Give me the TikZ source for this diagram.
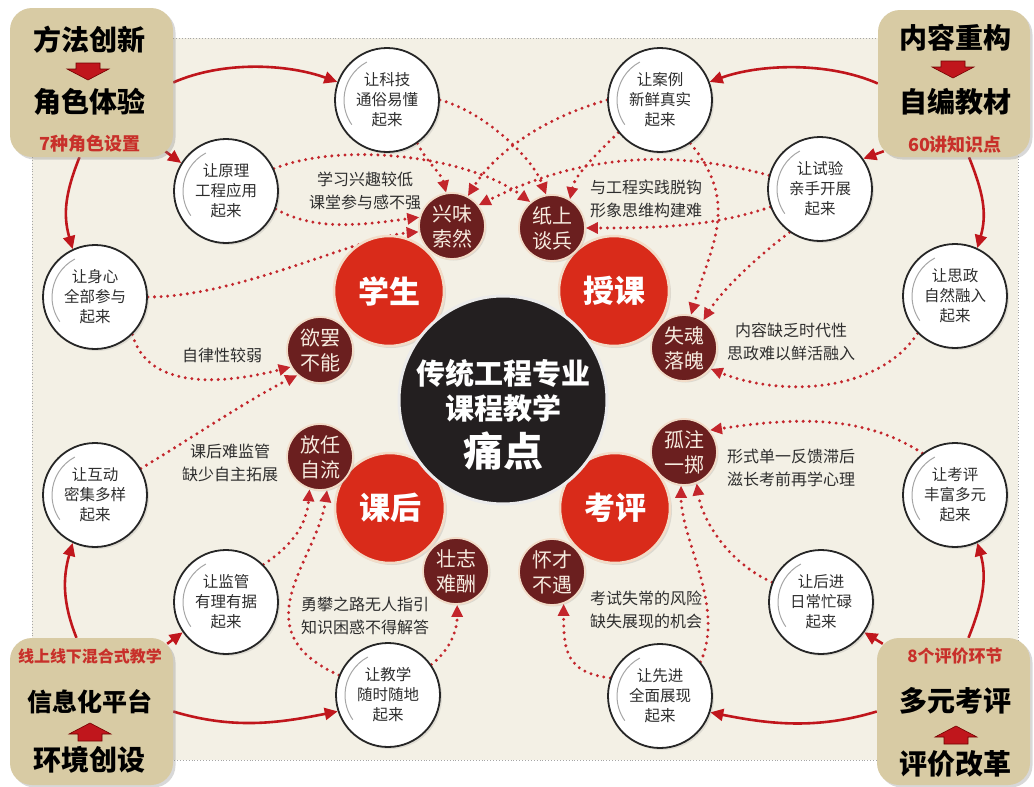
\documentclass[tikz,border=0pt]{standalone}
\usepackage{fontspec}
\setmainfont{Noto Sans CJK SC}
\usetikzlibrary{arrows.meta,shadows}
\pgfdeclarelayer{back}
\pgfdeclarelayer{mid}
\pgfsetlayers{back,mid,main}
\definecolor{bgbeige}{HTML}{F3F0E5}
\definecolor{boxtan}{HTML}{D8CBA4}
\definecolor{darkred}{HTML}{C0161C}
\definecolor{dotred}{HTML}{C3262C}
\definecolor{circred}{HTML}{D92B1A}
\definecolor{painc}{HTML}{6B1F1F}
\definecolor{coal}{HTML}{231F20}
\definecolor{txtc}{HTML}{2E2E2E}
\definecolor{subred}{HTML}{C8302A}
\definecolor{ringc}{HTML}{F2DCC8}
\definecolor{creamc}{HTML}{F6EBDF}
\tikzset{
  wc/.style={circle, draw=black!85, line width=1.8pt, fill=white, minimum size=104pt, inner sep=0pt, align=center, text=txtc, font=\fontsize{15.5}{20}\selectfont, drop shadow={opacity=0.18, shadow xshift=2pt, shadow yshift=-2pt}},
  rc/.style={circle, draw=ringc, line width=2.5pt, fill=circred, minimum size=110pt, inner sep=0pt, text=white, font=\fontsize{31}{36}\selectfont\bfseries, drop shadow={opacity=0.2, shadow xshift=2pt, shadow yshift=-2pt}},
  mc/.style={circle, draw=ringc, line width=1.8pt, fill=painc, minimum size=66pt, inner sep=0pt, align=center, text=creamc, font=\fontsize{20}{25}\selectfont, drop shadow={opacity=0.2, shadow xshift=1.5pt, shadow yshift=-1.5pt}},
  cc/.style={circle, draw=white!92!black, line width=3pt, fill=coal, minimum size=208pt, inner sep=0pt},
  ctxt/.style={text=white, inner sep=0pt, font=\fontsize{29}{32}\selectfont\bfseries},
  ann/.style={align=center, text=txtc, font=\fontsize{16}{23}\selectfont, inner sep=0pt},
  cbox/.style={rounded corners=22pt, fill=boxtan, inner sep=0pt, drop shadow={opacity=0.3, shadow xshift=2.5pt, shadow yshift=-2.5pt}},
  btext/.style={font=\fontsize{28}{32}\selectfont\bfseries, text=black, inner sep=0pt},
  bsub/.style={font=\fontsize{18}{20}\selectfont\bfseries, text=subred, inner sep=0pt},
  sarr/.style={draw=darkred, line width=2.6pt, -{Triangle[length=13pt,width=12pt]}},
  darr/.style={draw=dotred, line width=3.3pt, line cap=round, dash pattern=on 0pt off 6.6pt, -{Triangle[length=12pt,width=11pt]}},
  blockarr/.style={fill=darkred, draw=black!55!red, line width=0.6pt},
  garc/.style={draw=gray!70, line width=1pt}
}
\begin{document}
\begin{tikzpicture}[x=1pt,y=-1pt]
\useasboundingbox (0,0) rectangle (1034,787);
\begin{pgfonlayer}{back}
  \fill[white] (0,0) rectangle (1034,787);
  \fill[bgbeige] (32,38) rectangle (1018,760);
  \draw[gray!70, dotted, line width=0.9pt] (32,38) rectangle (1018,760);
\end{pgfonlayer}

% corner boxes
\node[cbox, minimum width=163pt, minimum height=149pt] (TL) at (91.5,82.5) {};
\node[cbox, minimum width=152pt, minimum height=147pt] (TR) at (954,83.5) {};
\node[cbox, minimum width=163pt, minimum height=147pt] (BL) at (91.5,711.5) {};
\node[cbox, minimum width=153pt, minimum height=147pt] (BR) at (953.5,711.5) {};

\node[btext] (TLa) at (90,40) {方法创新};
\node[btext] (TLb) at (90,102) {角色体验};
\node[bsub] (TLc) at (90,144) {7种角色设置};
\fill[blockarr] (76,63) -- (100,63) -- (100,69) -- (109,69) -- (88,80) -- (67,69) -- (76,69) -- cycle;

\node[btext] (TRa) at (955,38) {内容重构};
\node[btext] (TRb) at (955,102) {自编教材};
\node[bsub] (TRc) at (955,145) {60讲知识点};
\fill[blockarr] (941,61) -- (965,61) -- (965,67) -- (974,67) -- (953,78) -- (932,67) -- (941,67) -- cycle;

\node[bsub, font=\fontsize{16}{18}\selectfont\bfseries] (BLa) at (90,656) {线上线下混合式教学};
\node[btext, font=\fontsize{25}{28}\selectfont\bfseries] (BLb) at (90,702) {信息化平台};
\node[btext] (BLc) at (90,760) {环境创设};
\fill[blockarr] (90,723) -- (111,734) -- (102,734) -- (102,741) -- (78,741) -- (78,734) -- (69,734) -- cycle;

\node[bsub, font=\fontsize{17}{19}\selectfont\bfseries] (BRa) at (955,656) {8个评价环节};
\node[btext] (BRb) at (955,701) {多元考评};
\node[btext] (BRc) at (955,764) {评价改革};
\fill[blockarr] (956,726) -- (977,737) -- (968,737) -- (968,744) -- (944,744) -- (944,737) -- (935,737) -- cycle;

% red circles
\node[rc] (S) at (389,291) {学生};
\node[rc] (T) at (614,291) {授课};
\node[rc] (H) at (390,508) {课后};
\node[rc] (K) at (615,508) {考评};

% centre
\node[cc] (C) at (503,400) {};
\node[ctxt] (C1) at (503,373) {传统工程专业};
\node[ctxt] (C2) at (503,408) {课程教学};
\node[ctxt, font=\fontsize{40}{44}\selectfont\bfseries] (C3) at (503,451) {痛点};

% maroon circles
\node[mc] (XW) at (452,226) {兴味\\索然};
\node[mc] (ZS) at (552,228) {纸上\\谈兵};
\node[mc] (YB) at (320,350) {欲罢\\不能};
\node[mc] (SH) at (684,348) {失魂\\落魄};
\node[mc] (FR) at (320,457) {放任\\自流};
\node[mc] (GZ) at (684,452) {孤注\\一掷};
\node[mc] (ZZ) at (456,571) {壮志\\难酬};
\node[mc] (HC) at (552,572) {怀才\\不遇};

% white circles
\node[wc] (KJ) at (387,100) {让科技\\通俗易懂\\起来};
\node[wc] (YL) at (226,191) {让原理\\工程应用\\起来};
\node[wc] (AL) at (660,100) {让案例\\新鲜真实\\起来};
\node[wc] (SY) at (820,189) {让试验\\亲手开展\\起来};
\node[wc] (SX) at (95,297) {让身心\\全部参与\\起来};
\node[wc] (HD) at (95,495) {让互动\\密集多样\\起来};
\node[wc] (SZ) at (955,296) {让思政\\自然融入\\起来};
\node[wc] (KP) at (955,495) {让考评\\丰富多元\\起来};
\node[wc] (JG) at (226,602) {让监管\\有理有据\\起来};
\node[wc] (JX) at (388,695) {让教学\\随时随地\\起来};
\node[wc] (XJ) at (660,696) {让先进\\全面展现\\起来};
\node[wc] (HJ) at (821,602) {让后进\\日常忙碌\\起来};
\foreach \n in {KJ,YL,AL,SY,SX,HD,SZ,KP,JG,JX,XJ,HJ}
  \draw[garc] (\n.center) ++(-118:43) arc[start angle=-118, end angle=-215, radius=43];

% annotations
\node[ann] (A1) at (365,191) {学习兴趣较低\\课堂参与感不强};
\node[ann] (A2) at (646,199) {与工程实践脱钩\\形象思维构建难};
\node[ann] (A3) at (222,355) {自律性较弱};
\node[ann] (A4) at (230,463) {课后难监管\\缺少自主拓展};
\node[ann] (A5) at (791,342) {内容缺乏时代性\\思政难以鲜活融入};
\node[ann] (A6) at (791,468) {形式单一反馈滞后\\滋长考前再学心理};
\node[ann] (A7) at (365,616) {勇攀之路无人指引\\知识困惑不得解答};
\node[ann] (A8) at (646,610) {考试失常的风险\\缺失展现的机会};

\begin{pgfonlayer}{mid}
% solid cycle arrows
\draw[sarr] (TL.east) .. controls +(50,-22) and +(-50,-18) .. (KJ.160);
\draw[sarr] ([shift={(-8,-6)}]TL.south east) -- (YL.148);
\draw[sarr] ([xshift=-12pt]TL.south) .. controls +(-14,35) and +(-10,-35) .. (SX.115);
\draw[sarr] ([xshift=-15pt]BL.north) .. controls +(-14,-35) and +(-10,35) .. (HD.245);
\draw[sarr] ([shift={(-6,6)}]BL.north east) -- (JG.215);
\draw[sarr] (BL.east) .. controls +(60,18) and +(-60,12) .. (JX.198);
\draw[sarr] (TR.west) .. controls +(-50,-22) and +(50,-18) .. (AL.20);
\draw[sarr] ([shift={(6,-6)}]TR.south west) -- (SY.35);
\draw[sarr] ([xshift=15pt]TR.south) .. controls +(14,35) and +(10,-35) .. (SZ.65);
\draw[sarr] ([xshift=15pt]BR.north) .. controls +(14,-35) and +(10,35) .. (KP.295);
\draw[sarr] ([shift={(6,6)}]BR.north west) -- (HJ.325);
\draw[sarr] (BR.west) .. controls +(-60,18) and +(60,12) .. (XJ.342);

% dotted arrows
\draw[darr] (KJ.305) .. controls +(10,20) and +(-5,-20) .. (XW.100);
\draw[darr] (KJ.0) .. controls +(40,10) and +(-15,-40) .. (ZS.100);
\draw[darr] (YL.25) .. controls +(70,-28) and +(-60,-45) .. (ZS.130);
\draw[darr] (YL.340) .. controls +(40,22) and +(-60,8) .. (XW.165);
\draw[darr] (SX.0) .. controls +(90,0) and +(-60,5) .. (XW.190);
\draw[darr] (SX.315) .. controls +(15,55) and +(-70,18) .. (YB.210);
\draw[darr] (HD.30) .. controls +(50,-30) and +(-50,25) .. (YB.228);
\draw[darr] (JG.45) .. controls +(30,-20) and +(-3,35) .. (FR.252);
\draw[darr] (JX.158) .. controls +(-100,-45) and +(-10,70) .. (FR.282);
\draw[darr] (JX.35) .. controls +(15,-12) and +(0,30) .. (ZZ.272);
\draw[darr] (AL.180) .. controls +(-70,20) and +(25,-40) .. (XW.62);
\draw[darr] (AL.218) .. controls +(-20,20) and +(5,-25) .. (ZS.58);
\draw[darr] (SY.165) .. controls +(-110,-30) and +(90,-45) .. (XW.38);
\draw[darr] (SY.200) .. controls +(-60,20) and +(70,0) .. (ZS.0);
\draw[darr] (AL.305) .. controls +(50,60) and +(20,-70) .. (SH.78);
\draw[darr] (SY.235) .. controls +(-40,30) and +(15,-25) .. (SH.55);
\draw[darr] (SZ.225) .. controls +(-40,60) and +(70,28) .. (SH.322);
\draw[darr] (KP.128) .. controls +(-60,-40) and +(80,-12) .. (GZ.40);
\draw[darr] (XJ.40) .. controls +(25,-55) and +(0,55) .. (GZ.265);
\draw[darr] (HJ.158) .. controls +(-45,-20) and +(5,35) .. (GZ.292);
\draw[darr] (XJ.160) .. controls +(-45,-5) and +(0,45) .. (HC.290);
\end{pgfonlayer}
\end{tikzpicture}
\end{document}
